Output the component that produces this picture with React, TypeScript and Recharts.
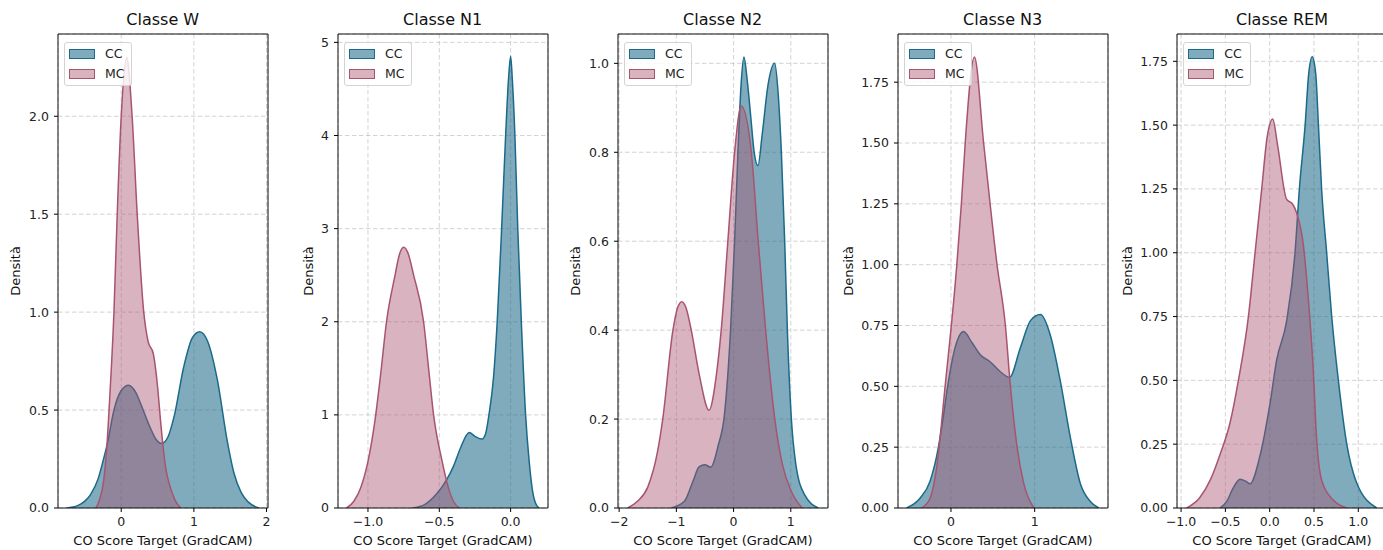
import React from 'react';
import { AreaChart, Area, XAxis, YAxis, CartesianGrid, Legend, ReferenceArea } from 'recharts';

const FONT = '"DejaVu Sans", Verdana, sans-serif';
const CC_COLOR = '#1b6a8a';
const MC_COLOR = '#a8546f';

// density curves: [score, density]
const W_CC = [[-0.75, 0], [-0.6, 0.012], [-0.5, 0.035], [-0.42, 0.07], [-0.317, 0.15], [-0.25, 0.24], [-0.19, 0.33], [-0.1, 0.5], [0.0, 0.6], [0.1, 0.627], [0.2, 0.59], [0.27, 0.53], [0.4, 0.41], [0.48, 0.35], [0.556, 0.33], [0.64, 0.36], [0.73, 0.47], [0.86, 0.72], [0.98, 0.87], [1.08, 0.9], [1.19, 0.85], [1.32, 0.66], [1.46, 0.34], [1.55, 0.18], [1.65, 0.08], [1.75, 0.03], [1.9, 0]];
const W_MC = [[-0.35, 0], [-0.3, 0.04], [-0.24, 0.144], [-0.2, 0.3], [-0.16, 0.55], [-0.1, 1.0], [-0.055, 1.5], [0.0, 2.0], [0.075, 2.3], [0.15, 2.0], [0.22, 1.5], [0.31, 1.0], [0.37, 0.85], [0.44, 0.79], [0.5, 0.62], [0.54, 0.45], [0.58, 0.3], [0.61, 0.21], [0.68, 0.1], [0.74, 0.04], [0.82, 0]];

const N1_CC = [[-0.69, 0], [-0.6, 0.04], [-0.52, 0.15], [-0.45, 0.3], [-0.4, 0.45], [-0.35, 0.65], [-0.29, 0.81], [-0.25, 0.77], [-0.2, 0.74], [-0.175, 0.8], [-0.152, 1.0], [-0.12, 1.4], [-0.094, 2.0], [-0.063, 3.0], [-0.035, 4.0], [-0.015, 4.6], [0.0, 4.85], [0.012, 4.6], [0.03, 4.0], [0.05, 3.0], [0.075, 2.0], [0.105, 1.0], [0.13, 0.5], [0.152, 0.2], [0.175, 0.05], [0.2, 0]];
const N1_MC = [[-1.15, 0], [-1.1, 0.07], [-1.05, 0.22], [-1.0, 0.5], [-0.95, 0.95], [-0.91, 1.45], [-0.87, 2.0], [-0.81, 2.5], [-0.78, 2.72], [-0.75, 2.8], [-0.72, 2.74], [-0.68, 2.5], [-0.61, 2.0], [-0.575, 1.5], [-0.54, 1.0], [-0.48, 0.5], [-0.433, 0.2], [-0.4, 0.07], [-0.36, 0]];

const N2_CC = [[-1.09, 0], [-0.86, 0.015], [-0.71, 0.06], [-0.6, 0.093], [-0.5, 0.097], [-0.4, 0.092], [-0.27, 0.14], [-0.16, 0.21], [-0.053, 0.4], [0.018, 0.6], [0.076, 0.8], [0.13, 0.95], [0.18, 1.014], [0.24, 0.96], [0.3, 0.88], [0.36, 0.8], [0.426, 0.77], [0.5, 0.84], [0.6, 0.95], [0.718, 1.0], [0.78, 0.93], [0.835, 0.8], [0.893, 0.6], [0.94, 0.4], [1.01, 0.2], [1.086, 0.1], [1.24, 0.03], [1.48, 0]];
const N2_MC = [[-1.85, 0], [-1.68, 0.015], [-1.5, 0.047], [-1.33, 0.126], [-1.238, 0.2], [-1.06, 0.4], [-0.98, 0.45], [-0.905, 0.464], [-0.83, 0.45], [-0.74, 0.4], [-0.6, 0.3], [-0.43, 0.22], [-0.3, 0.3], [-0.216, 0.4], [-0.1, 0.6], [0.018, 0.8], [0.134, 0.904], [0.31, 0.8], [0.43, 0.6], [0.56, 0.4], [0.72, 0.2], [0.85, 0.1], [1.0, 0.04], [1.2, 0]];

const N3_CC = [[-0.53, 0], [-0.37, 0.04], [-0.25, 0.11], [-0.15, 0.25], [-0.09, 0.38], [-0.04, 0.5], [0.05, 0.66], [0.151, 0.725], [0.25, 0.68], [0.35, 0.63], [0.47, 0.6], [0.59, 0.56], [0.7, 0.537], [0.83, 0.66], [0.95, 0.77], [1.068, 0.795], [1.187, 0.71], [1.307, 0.52], [1.426, 0.29], [1.546, 0.1], [1.665, 0.027], [1.765, 0]];
const N3_MC = [[-0.35, 0], [-0.25, 0.04], [-0.17, 0.17], [-0.07, 0.5], [0.07, 1.0], [0.124, 1.25], [0.17, 1.5], [0.28, 1.853], [0.39, 1.5], [0.55, 1.0], [0.65, 0.75], [0.71, 0.5], [0.79, 0.25], [0.87, 0.1], [0.99, 0]];

const REM_CC = [[-0.56, 0], [-0.485, 0.026], [-0.41, 0.08], [-0.335, 0.113], [-0.27, 0.105], [-0.222, 0.095], [-0.109, 0.205], [0.004, 0.41], [0.079, 0.58], [0.19, 0.73], [0.286, 1.0], [0.335, 1.25], [0.4, 1.5], [0.44, 1.7], [0.48, 1.768], [0.52, 1.7], [0.55, 1.5], [0.586, 1.25], [0.643, 1.0], [0.7, 0.75], [0.775, 0.5], [0.87, 0.25], [0.98, 0.1], [1.207, 0]];
const REM_MC = [[-0.936, 0], [-0.79, 0.04], [-0.67, 0.11], [-0.56, 0.21], [-0.45, 0.33], [-0.353, 0.5], [-0.24, 0.75], [-0.165, 1.0], [-0.09, 1.25], [-0.03, 1.45], [0.034, 1.524], [0.09, 1.42], [0.19, 1.21], [0.26, 1.19], [0.3, 1.16], [0.38, 1.03], [0.436, 0.82], [0.49, 0.55], [0.53, 0.27], [0.586, 0.11], [0.72, 0.03], [0.87, 0]];

// tick labels
const W_X_TICKS = [0, 1, 2];
const W_Y_TICKS = [0, 0.5, 1, 1.5, 2];
const N1_X_TICKS = [-1, -0.5, 0];
const N1_Y_TICKS = [0, 1, 2, 3, 4, 5];
const N2_X_TICKS = [-2, -1, 0, 1];
const N2_Y_TICKS = [0, 0.2, 0.4, 0.6, 0.8, 1.0];
const N3_X_TICKS = [0, 1];
const N3_Y_TICKS = [0, 0.25, 0.5, 0.75, 1.0, 1.25, 1.5, 1.75];
const REM_X_TICKS = [-1, -0.5, 0, 0.5, 1];
const REM_Y_TICKS = [0, 0.25, 0.5, 0.75, 1.0, 1.25, 1.5, 1.75];

const SERIES = [
  { key: 'cc', name: 'CC', color: CC_COLOR, opacity: 0.56 },
  { key: 'mc', name: 'MC', color: MC_COLOR, opacity: 0.44 },
];

const PANELS = [
  { title: 'Classe W', cc: W_CC, mc: W_MC, xDomain: [-0.87, 2.02], xTicks: W_X_TICKS, xDec: 0, yMax: 2.42, yTicks: W_Y_TICKS, yDec: 1, plotLeft: 57.7, yLabelGap: 43 },
  { title: 'Classe N1', cc: N1_CC, mc: N1_MC, xDomain: [-1.21, 0.262], xTicks: N1_X_TICKS, xDec: 1, yMax: 5.09, yTicks: N1_Y_TICKS, yDec: 0, plotLeft: 337.7, yLabelGap: 30 },
  { title: 'Classe N2', cc: N2_CC, mc: N2_MC, xDomain: [-2.02, 1.65], xTicks: N2_X_TICKS, xDec: 0, yMax: 1.066, yTicks: N2_Y_TICKS, yDec: 1, plotLeft: 617.7, yLabelGap: 43 },
  { title: 'Classe N3', cc: N3_CC, mc: N3_MC, xDomain: [-0.633, 1.876], xTicks: N3_X_TICKS, xDec: 0, yMax: 1.948, yTicks: N3_Y_TICKS, yDec: 2, plotLeft: 897.7, yLabelGap: 50 },
  { title: 'Classe REM', cc: REM_CC, mc: REM_MC, xDomain: [-1.046, 1.324], xTicks: REM_X_TICKS, xDec: 1, yMax: 1.857, yTicks: REM_Y_TICKS, yDec: 2, plotLeft: 1177, yLabelGap: 50 },
];

const PLOT_TOP = 34;
const PLOT_BOTTOM = 508;
const PLOT_W = 210;
const AXIS_W = 58;
const CHART_H = 550;

const fmt = (dec) => (v) => {
  const s = Math.abs(v).toFixed(dec);
  return v < 0 ? '\u2212' + s : s;
};

const mergeSeries = (cc, mc) => {
  const rows = [
    ...cc.map(([x, y]) => ({ x, cc: y })),
    ...mc.map(([x, y]) => ({ x, mc: y })),
  ];
  rows.sort((a, b) => a.x - b.x);
  return rows;
};

const LegendBox = () => (
  <div
    style={{
      border: '1px solid #d4d4d4',
      borderRadius: 3,
      background: 'rgba(255,255,255,0.8)',
      padding: '4px 6px 4px 4px',
      fontFamily: FONT,
      fontSize: 12.5,
      lineHeight: '14px',
      color: '#222',
    }}
  >
    {SERIES.map((s, i) => (
      <div key={s.key} style={{ display: 'flex', alignItems: 'center', marginTop: i ? 6 : 0 }}>
        <span
          style={{
            display: 'inline-block',
            width: 26,
            height: 10,
            boxSizing: 'border-box',
            background: s.color,
            border: `1px solid ${s.color}`,
            marginRight: 10,
            position: 'relative',
          }}
        >
          <span style={{ position: 'absolute', inset: 0, background: 'white', opacity: 1 - s.opacity }} />
        </span>
        <span>{s.name}</span>
      </div>
    ))}
  </div>
);

const Panel = ({ p }) => {
  const data = mergeSeries(p.cc, p.mc);
  const chartLeft = p.plotLeft - AXIS_W;
  const chartW = AXIS_W + PLOT_W + 8;
  const tickStyle = { fill: '#222', fontSize: 12.5, fontFamily: FONT };
  return (
    <div style={{ position: 'absolute', left: chartLeft, top: 0, width: chartW, height: CHART_H }}>
      <div
        style={{
          position: 'absolute',
          left: AXIS_W,
          width: PLOT_W,
          top: 10,
          textAlign: 'center',
          fontFamily: FONT,
          fontSize: 16,
          lineHeight: '19px',
          color: '#111',
        }}
      >
        {p.title}
      </div>
      <AreaChart
        width={chartW}
        height={CHART_H}
        data={data}
        margin={{ top: PLOT_TOP, right: chartW - AXIS_W - PLOT_W, left: 0, bottom: 0 }}
      >
        <XAxis
          dataKey="x"
          type="number"
          domain={p.xDomain}
          ticks={p.xTicks}
          interval={0}
          allowDataOverflow
          height={CHART_H - PLOT_BOTTOM}
          axisLine={false}
          tickLine={{ stroke: '#000' }}
          tickSize={4}
          tickMargin={5}
          tick={tickStyle}
          tickFormatter={fmt(p.xDec)}
          label={() => (
            <text
              x={AXIS_W + PLOT_W / 2}
              y={545}
              textAnchor="middle"
              fontFamily={FONT}
              fontSize={13}
              fill="#111"
            >
              CO Score Target (GradCAM)
            </text>
          )}
        />
        <YAxis
          type="number"
          domain={[0, p.yMax]}
          ticks={p.yTicks}
          interval={0}
          allowDataOverflow
          width={AXIS_W}
          axisLine={false}
          tickLine={{ stroke: '#000' }}
          tickSize={4}
          tickMargin={5}
          tick={tickStyle}
          tickFormatter={fmt(p.yDec)}
          label={() => {
            const cx = AXIS_W - p.yLabelGap;
            const cy = (PLOT_TOP + PLOT_BOTTOM) / 2;
            return (
              <text
                x={cx}
                y={cy}
                transform={`rotate(-90 ${cx} ${cy})`}
                textAnchor="middle"
                dominantBaseline="central"
                fontFamily={FONT}
                fontSize={13}
                fill="#111"
              >
                Densità
              </text>
            );
          }}
        />
        {SERIES.map((s) => (
          <Area
            key={s.key}
            dataKey={s.key}
            name={s.name}
            type="monotone"
            stroke={s.color}
            strokeWidth={1.5}
            fill={s.color}
            fillOpacity={s.opacity}
            connectNulls
            dot={false}
            activeDot={false}
            isAnimationActive={false}
          />
        ))}
        <CartesianGrid stroke="#b0b0b0" strokeOpacity={0.7} strokeDasharray="4.5 2.5" strokeWidth={0.8} />
        <ReferenceArea
          x1={p.xDomain[0]}
          x2={p.xDomain[1]}
          y1={0}
          y2={p.yMax}
          fill="none"
          stroke="#111"
          strokeWidth={1}
          ifOverflow="visible"
        />
        <Legend
          layout="vertical"
          align="center"
          verticalAlign="middle"
          content={() => <LegendBox />}
          wrapperStyle={{ left: AXIS_W + 6.3, top: 42, width: 'auto', right: 'auto', bottom: 'auto' }}
        />
      </AreaChart>
    </div>
  );
};

export default function App() {
  return (
    <div
      style={{
        position: 'absolute',
        left: 0,
        top: 0,
        width: 1383,
        height: 550,
        overflow: 'hidden',
        background: '#fff',
      }}
    >
      {PANELS.map((p) => (
        <Panel key={p.title} p={p} />
      ))}
    </div>
  );
}
